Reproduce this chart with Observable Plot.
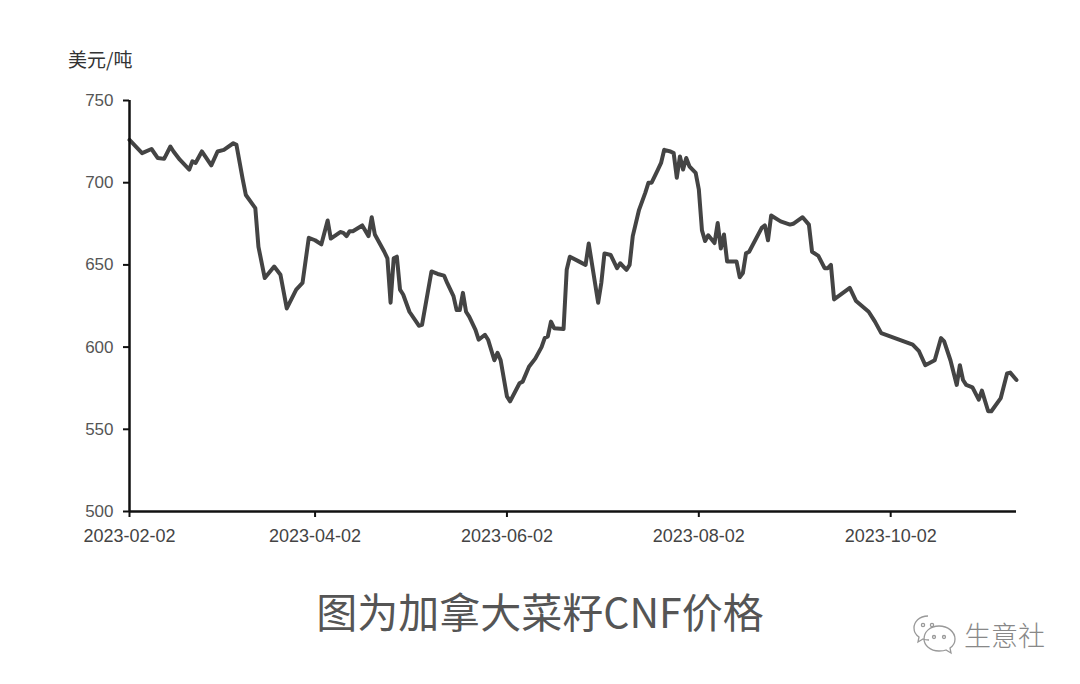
<!DOCTYPE html>
<html>
<head>
<meta charset="utf-8">
<script src="https://cdn.jsdelivr.net/npm/d3@7"></script>
<script src="https://cdn.jsdelivr.net/npm/@observablehq/plot@0.6"></script>
<style>
  html, body { margin: 0; padding: 0; background: #fff; }
  #wrap { position: relative; width: 1080px; height: 684px; overflow: hidden; background: #fff; }
  #chart { position: absolute; left: 0; top: 0; }
  .unit { position: absolute; left: 68px; top: 45px; font: 19px "Noto Sans CJK SC", sans-serif; color: #333; }
  .title { position: absolute; left: 0; width: 1080px; top: 580px; text-align: center; font: 41px "Noto Sans CJK SC", sans-serif; color: #555; }
  .mark { position: absolute; left: 912px; top: 612px; display: flex; align-items: center; }
  .mark span { font: 27px "Noto Sans CJK SC", sans-serif; color: #888; font-weight: 300; margin-left: 6px; }
</style>
</head>
<body>
<div id="wrap">
  <div id="chart"></div>
  <div class="unit">美元/吨</div>
  <div class="title">图为加拿大菜籽CNF价格</div>
  <div class="mark">
    <svg width="46" height="44" viewBox="0 0 46 44">
      <g fill="none" stroke="#999" stroke-width="1.3">
        <path d="M16 4 C7 4 2 10 2 16 C2 20 4 23 7 25 L6 30 L11 27 C13 28 15 28 17 28"/>
        <circle cx="11" cy="13" r="1.6"/>
        <circle cx="20" cy="13" r="1.6"/>
        <path d="M27 14 C36 14 43 20 43 27 C43 31 41 34 38 36 L39 41 L34 38 C32 39 29 39 27 39 C18 39 12 33 12 27 C12 20 18 14 27 14 Z"/>
        <circle cx="22" cy="25" r="1.5"/>
        <circle cx="32" cy="25" r="1.5"/>
      </g>
    </svg>
    <span>生意社</span>
  </div>
</div>
<script>
const dates = [
  "2023-02-02","2023-02-06","2023-02-09","2023-02-11","2023-02-13","2023-02-15","2023-02-16","2023-02-18",
  "2023-02-21","2023-02-22","2023-02-23","2023-02-25","2023-02-28","2023-03-02","2023-03-04","2023-03-07",
  "2023-03-08","2023-03-10","2023-03-11","2023-03-14","2023-03-15","2023-03-17","2023-03-20","2023-03-22",
  "2023-03-24","2023-03-27","2023-03-29","2023-03-31","2023-04-02","2023-04-04","2023-04-06","2023-04-07",
  "2023-04-10","2023-04-11","2023-04-12","2023-04-13","2023-04-14","2023-04-17","2023-04-19","2023-04-20",
  "2023-04-21","2023-04-24","2023-04-25","2023-04-26","2023-04-27","2023-04-28","2023-04-29","2023-04-30",
  "2023-05-02","2023-05-05","2023-05-06","2023-05-09","2023-05-11","2023-05-13","2023-05-14","2023-05-16",
  "2023-05-17","2023-05-18","2023-05-19","2023-05-20","2023-05-21","2023-05-23","2023-05-24","2023-05-26",
  "2023-05-27","2023-05-29","2023-05-30","2023-05-31","2023-06-02","2023-06-03","2023-06-06","2023-06-07",
  "2023-06-09","2023-06-11","2023-06-13","2023-06-14","2023-06-15","2023-06-16","2023-06-17","2023-06-20",
  "2023-06-21","2023-06-22","2023-06-25","2023-06-27","2023-06-28","2023-06-29","2023-07-01","2023-07-02",
  "2023-07-03","2023-07-05","2023-07-07","2023-07-08","2023-07-10","2023-07-11","2023-07-12","2023-07-14",
  "2023-07-16","2023-07-17","2023-07-18","2023-07-20","2023-07-21","2023-07-22","2023-07-24","2023-07-25",
  "2023-07-26","2023-07-27","2023-07-28","2023-07-29","2023-07-30","2023-08-01","2023-08-02","2023-08-03",
  "2023-08-04","2023-08-05","2023-08-07","2023-08-08","2023-08-09","2023-08-10","2023-08-11","2023-08-14",
  "2023-08-15","2023-08-16","2023-08-17","2023-08-18","2023-08-22","2023-08-23","2023-08-24","2023-08-25",
  "2023-08-28","2023-08-31","2023-09-01","2023-09-04","2023-09-06","2023-09-07","2023-09-09","2023-09-11",
  "2023-09-12","2023-09-13","2023-09-14","2023-09-19","2023-09-21","2023-09-25","2023-09-27","2023-09-29",
  "2023-10-09","2023-10-11","2023-10-13","2023-10-16","2023-10-18","2023-10-19","2023-10-21","2023-10-23",
  "2023-10-24","2023-10-25","2023-10-26","2023-10-28","2023-10-30","2023-10-31","2023-11-02","2023-11-03",
  "2023-11-06","2023-11-08","2023-11-09","2023-11-11"
];
const prices = [
  726,718,720.5,715,714.5,722,719,714,
  708,713,712,719,710.5,719,720,724,
  723,702,692.5,684.5,661,642,649,644,
  623.5,635,639,666.5,665,662.5,677,666,
  670,669.5,667.5,670.5,670.5,674,667.5,679,
  668.5,658,654,627,654,655,635,632,
  621.5,613,613.5,646,644.5,643.5,639,631,
  622.5,622.5,633,621.5,618.5,610.5,604.5,607.5,
  604.5,592,596.5,592,570,567,578,579,
  588,593,600,605.5,606.5,615.5,611.5,611,
  647,655,652,650,663,651,627,639,
  657,656,648,651,647,650,667.5,683.5,
  694,700,700,708,712,720,719,718,
  703,716,708,715,710,706,696,671,
  664.5,668,663.3,675.5,660,668.5,652,652,
  642.5,645,657,658,672.5,674,665,680,
  676.5,674.5,675,679,674.5,658,655.5,648,
  648,650,629,636,628,621.5,615.5,608.5,
  601.5,597.5,589,592,605.5,603.5,592,577,
  589,580,577,575.5,568,573.5,561,561,
  569,584,584.5,580
];
const xTickDates = ["2023-02-02","2023-04-02","2023-06-02","2023-08-02","2023-10-02"];
const yTickValues = [500,550,600,650,700,750];
const xStart = "2023-02-02";
const xEnd = "2023-11-11";

const data = dates.map((d, i) => ({date: new Date(d), price: prices[i]}));

const chart = Plot.plot({
  width: 1080,
  height: 684,
  marginLeft: 129,
  marginRight: 64,
  marginTop: 100,
  marginBottom: 173,
  style: {background: "transparent", fontFamily: "'Liberation Sans', Arial, sans-serif", fontSize: "17px", color: "#555"},
  x: {type: "utc", domain: [new Date(xStart), new Date(xEnd)]},
  y: {domain: [500, 750]},
  marks: [
    Plot.axisY({ticks: yTickValues, tickSize: 6, tickPadding: 10, label: null, tickFormat: d => String(d),
      stroke: "#111", strokeWidth: 2, fill: "#555", fontSize: 17}),
    Plot.axisX({ticks: xTickDates.map(d => new Date(d)), tickFormat: d3.utcFormat("%Y-%m-%d"), tickSize: 6, tickPadding: 12,
      label: null, stroke: "#111", strokeWidth: 2, fill: "#444", fontSize: 18}),
    Plot.line(data, {x: "date", y: "price", stroke: "#444", strokeWidth: 4, strokeLinejoin: "round", strokeLinecap: "round"}),
    Plot.ruleX([new Date(xStart)], {stroke: "#111", strokeWidth: 2.5}),
    Plot.ruleY([500], {stroke: "#111", strokeWidth: 2.5})
  ]
});
document.getElementById("chart").appendChild(chart);
</script>
</body>
</html>
